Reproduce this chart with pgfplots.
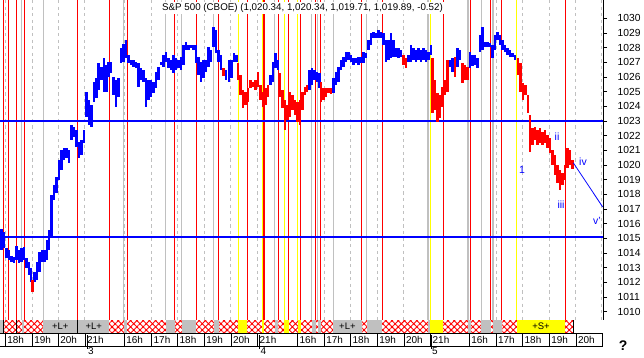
\documentclass[border=0pt]{standalone}
\usepackage{fontspec}
\setmainfont{Liberation Sans}
\usepackage{pgfplots}
\pgfplotsset{compat=1.18}
\usepackage{pgfplotstable}
\usetikzlibrary{patterns.meta}
\definecolor{cblue}{RGB}{0,0,255}
\definecolor{cred}{RGB}{255,0,0}
\definecolor{cyel}{RGB}{255,255,0}
\definecolor{cgray}{RGB}{192,192,192}

\pgfplotstableread{
x lo hi
1.5 1014.21 1015.64
4 1014.34 1015.43
6.5 1013.66 1014.34
9 1013.52 1014.21
11.5 1013.39 1013.80
14 1013.32 1013.73
16.5 1013.52 1014.48
19 1013.32 1014.21
21.5 1013.39 1014.34
24 1013.52 1014.41
26.5 1012.98 1013.66
29 1012.50 1013.39
31 1012.02 1012.98
34.5 1012.02 1012.71
37 1012.16 1013.39
39.5 1012.71 1014.07
42 1013.39 1014.21
44.5 1013.39 1014.21
47 1013.52 1014.89
49 1014.21 1015.57
51.5 1015.09 1017.95
54 1017.61 1018.64
56.5 1018.09 1019.18
59 1018.98 1020.34
61.5 1019.66 1021.02
64 1020.34 1021.16
66.5 1020.48 1021.16
69 1020.14 1021.02
71.5 1021.70 1022.73
74 1021.91 1022.59
76.5 1021.23 1022.39
79 1020.48 1021.57
81.5 1020.68 1021.70
84 1021.50 1022.39
86.5 1023.27 1024.98
89 1022.73 1024.43
91.5 1022.59 1024.09
94 1024.29 1025.66
96.5 1024.57 1025.93
98.5 1025.11 1026.95
101.5 1025.79 1026.68
104 1024.98 1027.29
106.5 1024.98 1026.82
108.5 1026.00 1027.02
111 1026.27 1027.02
113.5 1024.77 1026.00
116 1023.95 1025.79
118.5 1024.63 1025.93
121 1026.95 1027.98
123.5 1027.02 1028.25
126 1027.29 1028.52
128.5 1026.95 1027.50
131 1026.82 1027.16
133.5 1026.68 1027.16
136 1026.61 1027.02
138.5 1025.32 1026.95
141 1025.79 1026.61
143.5 1025.66 1026.48
146 1023.95 1025.93
148.5 1024.43 1025.79
151 1024.63 1025.79
153.5 1024.91 1025.66
156 1025.25 1026.34
158.5 1025.79 1026.68
161 1026.82 1027.02
163.5 1026.68 1027.50
166 1027.02 1027.70
168.5 1026.61 1027.29
171 1026.48 1027.16
173.5 1026.27 1027.50
176 1026.48 1027.29
178.5 1026.61 1027.16
181 1026.48 1027.36
183.5 1026.82 1028.18
186 1027.84 1028.38
188.5 1027.84 1028.18
191 1027.98 1028.18
193.5 1027.84 1028.18
196 1026.95 1028.18
198.5 1026.14 1027.36
201 1025.66 1027.02
203.5 1025.93 1027.16
206 1026.34 1027.16
208.5 1026.68 1028.04
211 1027.02 1027.84
213.5 1028.04 1029.41
216 1027.63 1029.20
218.5 1027.02 1027.84
221 1026.48 1027.50
226 1025.79 1026.48
229 1025.66 1027.16
231.5 1025.93 1027.16
234 1027.02 1027.63
236.5 1027.02 1027.50
270.5 1025.45 1026.14
273 1025.66 1027.02
275.5 1026.61 1027.63
278 1026.48 1027.16
309.5 1025.11 1026.48
312 1025.45 1026.61
314.5 1025.79 1026.48
317 1025.66 1026.34
319.5 1025.25 1026.27
333.5 1024.91 1025.93
336 1025.45 1026.34
338.5 1025.66 1026.68
341 1026.48 1027.16
343.5 1026.68 1027.36
346 1027.02 1027.70
348.5 1027.16 1027.70
351 1027.02 1027.50
353.5 1026.82 1027.29
356 1026.95 1027.29
358.5 1026.82 1027.36
361 1026.95 1027.36
363.5 1026.95 1027.70
366 1027.29 1027.63
368.5 1027.84 1028.52
371 1028.18 1029.00
373.5 1028.66 1029.07
376 1028.66 1029.00
378.5 1028.66 1029.20
381 1028.66 1029.07
383.5 1028.18 1029.00
386 1027.02 1028.52
388.5 1027.16 1028.52
391 1027.29 1029.00
393.5 1027.36 1028.52
396 1027.36 1027.98
398.5 1027.29 1027.98
401 1027.36 1027.84
408.5 1027.02 1027.50
411 1027.02 1028.18
413.5 1027.16 1027.98
416 1027.02 1027.84
418.5 1027.16 1027.98
421 1027.02 1027.84
423.5 1027.16 1027.98
426 1027.02 1027.84
428.5 1027.16 1027.70
431 1027.50 1028.18
450 1026.68 1027.16
452.5 1026.34 1027.29
457.5 1026.68 1027.98
460 1027.16 1027.84
470 1026.61 1027.70
472.5 1026.75 1027.50
475 1026.82 1027.50
477.5 1026.61 1027.29
480 1027.70 1028.86
482.5 1027.84 1029.41
485 1028.04 1028.38
487.5 1028.04 1028.38
490 1028.04 1028.32
492.5 1027.29 1028.18
495 1027.84 1028.86
497.5 1028.52 1029.07
500 1028.18 1028.86
502.5 1027.84 1028.52
505 1027.70 1028.18
507.5 1027.50 1027.98
510 1027.36 1027.84
512.5 1027.36 1027.63
515 1027.16 1027.50
}\bluebars

\pgfplotstableread{
x lo hi
32.5 1011.34 1012.16
223.5 1026.07 1026.61
238 1025.79 1026.95
240.5 1024.77 1026.14
243 1023.89 1025.11
245.5 1024.09 1024.98
248 1024.29 1025.25
250.5 1025.25 1025.79
253 1025.32 1025.66
255.5 1025.11 1025.79
258 1025.32 1026.34
260.5 1024.43 1025.45
263 1023.95 1024.98
265.5 1024.09 1025.25
268 1024.63 1025.45
280 1024.63 1026.27
282.5 1023.89 1025.11
285 1022.40 1024.43
287.5 1023.07 1024.09
290 1023.27 1024.98
292.5 1023.75 1024.77
295 1023.41 1024.43
297.5 1022.93 1024.29
300 1022.75 1024.43
302.5 1023.75 1024.98
305 1024.77 1025.32
307 1024.98 1025.45
321 1024.29 1025.66
323.5 1024.43 1025.25
326 1024.63 1025.25
328.5 1024.91 1025.25
331 1024.84 1025.25
403.5 1026.82 1027.50
406 1026.61 1027.29
432.5 1023.54 1027.29
435 1023.75 1025.79
437.5 1022.93 1024.91
440 1023.20 1024.77
442.5 1023.95 1025.32
445 1024.77 1025.79
447.5 1024.98 1027.16
455 1026.00 1027.36
462.5 1025.59 1026.95
465 1025.79 1026.82
467.5 1025.79 1026.68
518 1026.14 1027.29
520.5 1024.98 1026.95
523 1024.43 1025.59
525.5 1024.77 1025.45
528 1023.54 1024.77
530 1020.89 1023.41
532.5 1021.36 1022.52
535 1021.70 1022.59
537.5 1021.36 1022.39
540 1021.50 1022.52
542.5 1021.36 1022.25
545 1021.50 1022.39
547.5 1021.16 1022.04
550 1020.82 1021.84
552.5 1020.00 1021.02
555 1019.32 1020.68
557.5 1018.77 1020.00
560 1018.29 1019.66
562.5 1018.64 1019.45
565 1018.98 1020.00
567.5 1019.79 1021.16
570 1020.00 1021.02
572.5 1019.71 1020.34
}\redbars

\pgfplotsset{
  vline/.style 2 args={draw=none, mark=none, forget plot,
    error bars/.cd, y dir=minus, y fixed=21.82, error mark=none,
    error bar style={draw=#1, line width=#2, solid}},
  vdash/.style={draw=none, mark=none, forget plot,
    error bars/.cd, y dir=minus, y fixed=21.82, error mark=none,
    error bar style={draw=cgray, line width=0.9bp, dash pattern=on 3.3bp off 3.3bp}},
  candle/.style={draw=none, mark=none, forget plot,
    error bars/.cd, y dir=both, y explicit, error mark=none,
    error bar style={draw=#1, line width=2.1bp, solid}},
}
\newcommand{\sblk}[3]{\fill[#1] (axis cs:#2,1008.55) rectangle (axis cs:#3,1009.43);}
\newcommand{\hl}[2]{\node[anchor=west, inner sep=0pt, font=\fontsize{10}{12}\selectfont] at (axis cs:#1+1.8,1008.10) {#2};}

\begin{document}
\begin{tikzpicture}
\begin{axis}[
  scale only axis, width=602.7bp, height=333bp,
  xmin=0, xmax=602.7, ymin=1008.55, ymax=1031.25,
  axis x line=none, axis y line=right,
  axis line style={draw=none},
  ytick={1010,1011,...,1030},
  tick align=outside, major tick length=4.5bp,
  ytick style={black, line width=0.8bp},
  yticklabel style={font=\fontsize{10.3}{12}\selectfont, xshift=7bp},
  /pgf/number format/assume math mode=true,
  /pgf/number format/1000 sep={},
  clip=false,
]
% hourly dashed lines
\addplot[vdash] coordinates {
(5.5,1031.25) (32.2,1031.25) (58.5,1031.25) (84.5,1031.25) (124.3,1031.25) (151.3,1031.25)
(177.7,1031.25) (204.3,1031.25) (230.8,1031.25) (257.5,1031.25) (324,1031.25) (350.5,1031.25)
(377.3,1031.25) (403.8,1031.25) (496,1031.25) (522.5,1031.25) (549,1031.25) (575.5,1031.25) (601.2,1031.25)};
% gray lines
\addplot[vline={cgray}{1.1bp}] coordinates {
(21.5,1031.25) (43.3,1031.25) (123.5,1031.25) (165.7,1031.25) (181.7,1031.25) (213.7,1031.25)
(274.5,1031.25) (311.7,1031.25) (317.5,1031.25) (333.3,1031.25) (366.7,1031.25) (428,1031.25)
(468,1031.25) (481.3,1031.25) (493,1031.25)};
% yellow lines
\addplot[vline={cyel}{1.3bp}] coordinates {
(238.3,1031.25) (262.3,1031.25) (284.3,1031.25) (297.5,1031.25) (430.3,1031.25) (516.7,1031.25)};
% red lines
\addplot[vline={cred}{1.2bp}] coordinates {
(3.3,1031.25) (8.3,1031.25) (16.7,1031.25) (24.3,1031.25) (77.3,1031.25) (109.3,1031.25)
(127.3,1031.25) (174.5,1031.25) (196.2,1031.25) (218.5,1031.25) (247.3,1031.25) (264,1031.25)
(278.3,1031.25) (288.7,1031.25) (300.7,1031.25) (315.5,1031.25) (320.5,1031.25) (361.5,1031.25)
(382.3,1031.25) (443.3,1031.25) (470.5,1031.25) (490.5,1031.25) (501.5,1031.25) (565.3,1031.25)};
% right axis line
\addplot[vline={black}{0.8bp}] coordinates {(603.2,1031.25)};
% horizontal levels
\addplot[cblue, line width=1.3bp, forget plot] coordinates {(0,1023.0) (602.7,1023.0)};
\addplot[cblue, line width=1.3bp, forget plot] coordinates {(0,1015.1) (602.7,1015.1)};
% candles
\addplot[candle=cblue] table[x=x, y expr=(\thisrow{lo}+\thisrow{hi})/2, y error expr=(\thisrow{hi}-\thisrow{lo})/2] {\bluebars};
\addplot[candle=cred] table[x=x, y expr=(\thisrow{lo}+\thisrow{hi})/2, y error expr=(\thisrow{hi}-\thisrow{lo})/2] {\redbars};
% projection
\addplot[cblue, line width=0.8bp, forget plot] coordinates {(573.3,1020.15) (602.7,1017.14)};
% wave labels
\node[cblue, font=\fontsize{10.5}{12}\selectfont] at (axis cs:522,1019.66) {1};
\node[cblue, font=\fontsize{10.5}{12}\selectfont] at (axis cs:557,1021.91) {ii};
\node[cblue, font=\fontsize{10.5}{12}\selectfont] at (axis cs:561,1017.27) {iii};
\node[cblue, font=\fontsize{10.5}{12}\selectfont] at (axis cs:583,1020.20) {iv};
\node[cblue, font=\fontsize{10.5}{12}\selectfont] at (axis cs:597,1016.18) {v'};
% strip
\fill[white] (axis cs:0,1008.55) rectangle (axis cs:573.3,1009.43);
\fill[pattern={Hatch[angle=45,distance=4.4bp,line width=0.9bp]}, pattern color=cred] (axis cs:0,1008.55) rectangle (axis cs:573.3,1009.43);
\sblk{cgray}{0}{3.3}
\sblk{cgray}{21.5}{24.3}
\sblk{cgray}{43.3}{77.3}
\sblk{cgray}{78.3}{109.3}
\sblk{cgray}{123.5}{127.3}
\sblk{cgray}{165.7}{174.5}
\sblk{cgray}{181.7}{196.2}
\sblk{cgray}{213.7}{218.5}
\sblk{cgray}{274.5}{278.3}
\sblk{cgray}{311.7}{315.5}
\sblk{cgray}{317.5}{320.5}
\sblk{cgray}{333.3}{361.5}
\sblk{cgray}{366.7}{382.3}
\sblk{cgray}{428}{430.3}
\sblk{cgray}{468}{470.5}
\sblk{cgray}{481.3}{490.5}
\sblk{cgray}{493}{501.5}
\sblk{cyel}{238.3}{247.3}
\sblk{cyel}{262.3}{264}
\sblk{cyel}{284.3}{288.7}
\sblk{cyel}{297.5}{300.7}
\sblk{cyel}{430.3}{443.3}
\sblk{cyel}{516.7}{565.3}
\sblk{black}{3.0}{4.0}
\sblk{black}{16.2}{17.2}
\sblk{black}{76.8}{78.3}
\sblk{black}{572.8}{573.8}
\node[font=\fontsize{9.5}{11}\selectfont] at (axis cs:60.3,1008.99) {+L+};
\node[font=\fontsize{9.5}{11}\selectfont] at (axis cs:93.8,1008.99) {+L+};
\node[font=\fontsize{9.5}{11}\selectfont] at (axis cs:347.4,1008.99) {+L+};
\node[font=\fontsize{9.5}{11}\selectfont] at (axis cs:541,1008.99) {+S+};
% hour label row
\draw[black, line width=0.8bp] (axis cs:0,1008.55) -- (axis cs:602.7,1008.55);
\draw[black, line width=0.8bp] (axis cs:0,1007.66) -- (axis cs:602.7,1007.66);
\pgfplotsinvokeforeach{5.3,32.3,58.3,85,124.3,151.7,177.7,204.3,231,257.7,297.7,324.3,350.7,377.3,404,430.7,469.3,496,522.7,549.3,576,602.7}{
  \draw[black, line width=0.8bp] (axis cs:#1,1008.55) -- (axis cs:#1,1007.66);
}
\hl{5.3}{18h} \hl{32.3}{19h} \hl{58.3}{20h} \hl{85}{21h}
\hl{124.3}{16h} \hl{151.7}{17h} \hl{177.7}{18h} \hl{204.3}{19h} \hl{231}{20h} \hl{257.7}{21h}
\hl{297.7}{16h} \hl{324.3}{17h} \hl{350.7}{18h} \hl{377.3}{19h} \hl{404}{20h} \hl{430.7}{21h}
\hl{469.3}{16h} \hl{496}{17h} \hl{522.7}{18h} \hl{549.3}{19h} \hl{576}{20h}
% day markers
\pgfplotsinvokeforeach{87,259.5,431}{
  \draw[black, line width=0.8bp] (axis cs:#1,1008.41) -- (axis cs:#1,1007.45);
}
\node[anchor=north west, inner sep=0pt, font=\fontsize{10}{12}\selectfont] at (axis cs:88,1007.56) {3};
\node[anchor=north west, inner sep=0pt, font=\fontsize{10}{12}\selectfont] at (axis cs:260.5,1007.56) {4};
\node[anchor=north west, inner sep=0pt, font=\fontsize{10}{12}\selectfont] at (axis cs:432,1007.56) {5};
\node[font=\bfseries\fontsize{14}{16}\selectfont] at (axis cs:623,1007.66) {?};
% title
\node[fill=white, inner sep=1.5bp, font=\fontsize{9.8}{11}\selectfont] at (axis cs:302.5,1030.72) {S\&P 500 (CBOE) (1,020.34, 1,020.34, 1,019.71, 1,019.89, -0.52)};
\end{axis}
\pgfresetboundingbox
\path (current axis.north west) rectangle ([xshift=41.3bp,yshift=-25bp]current axis.south east);
\end{tikzpicture}
\end{document}
